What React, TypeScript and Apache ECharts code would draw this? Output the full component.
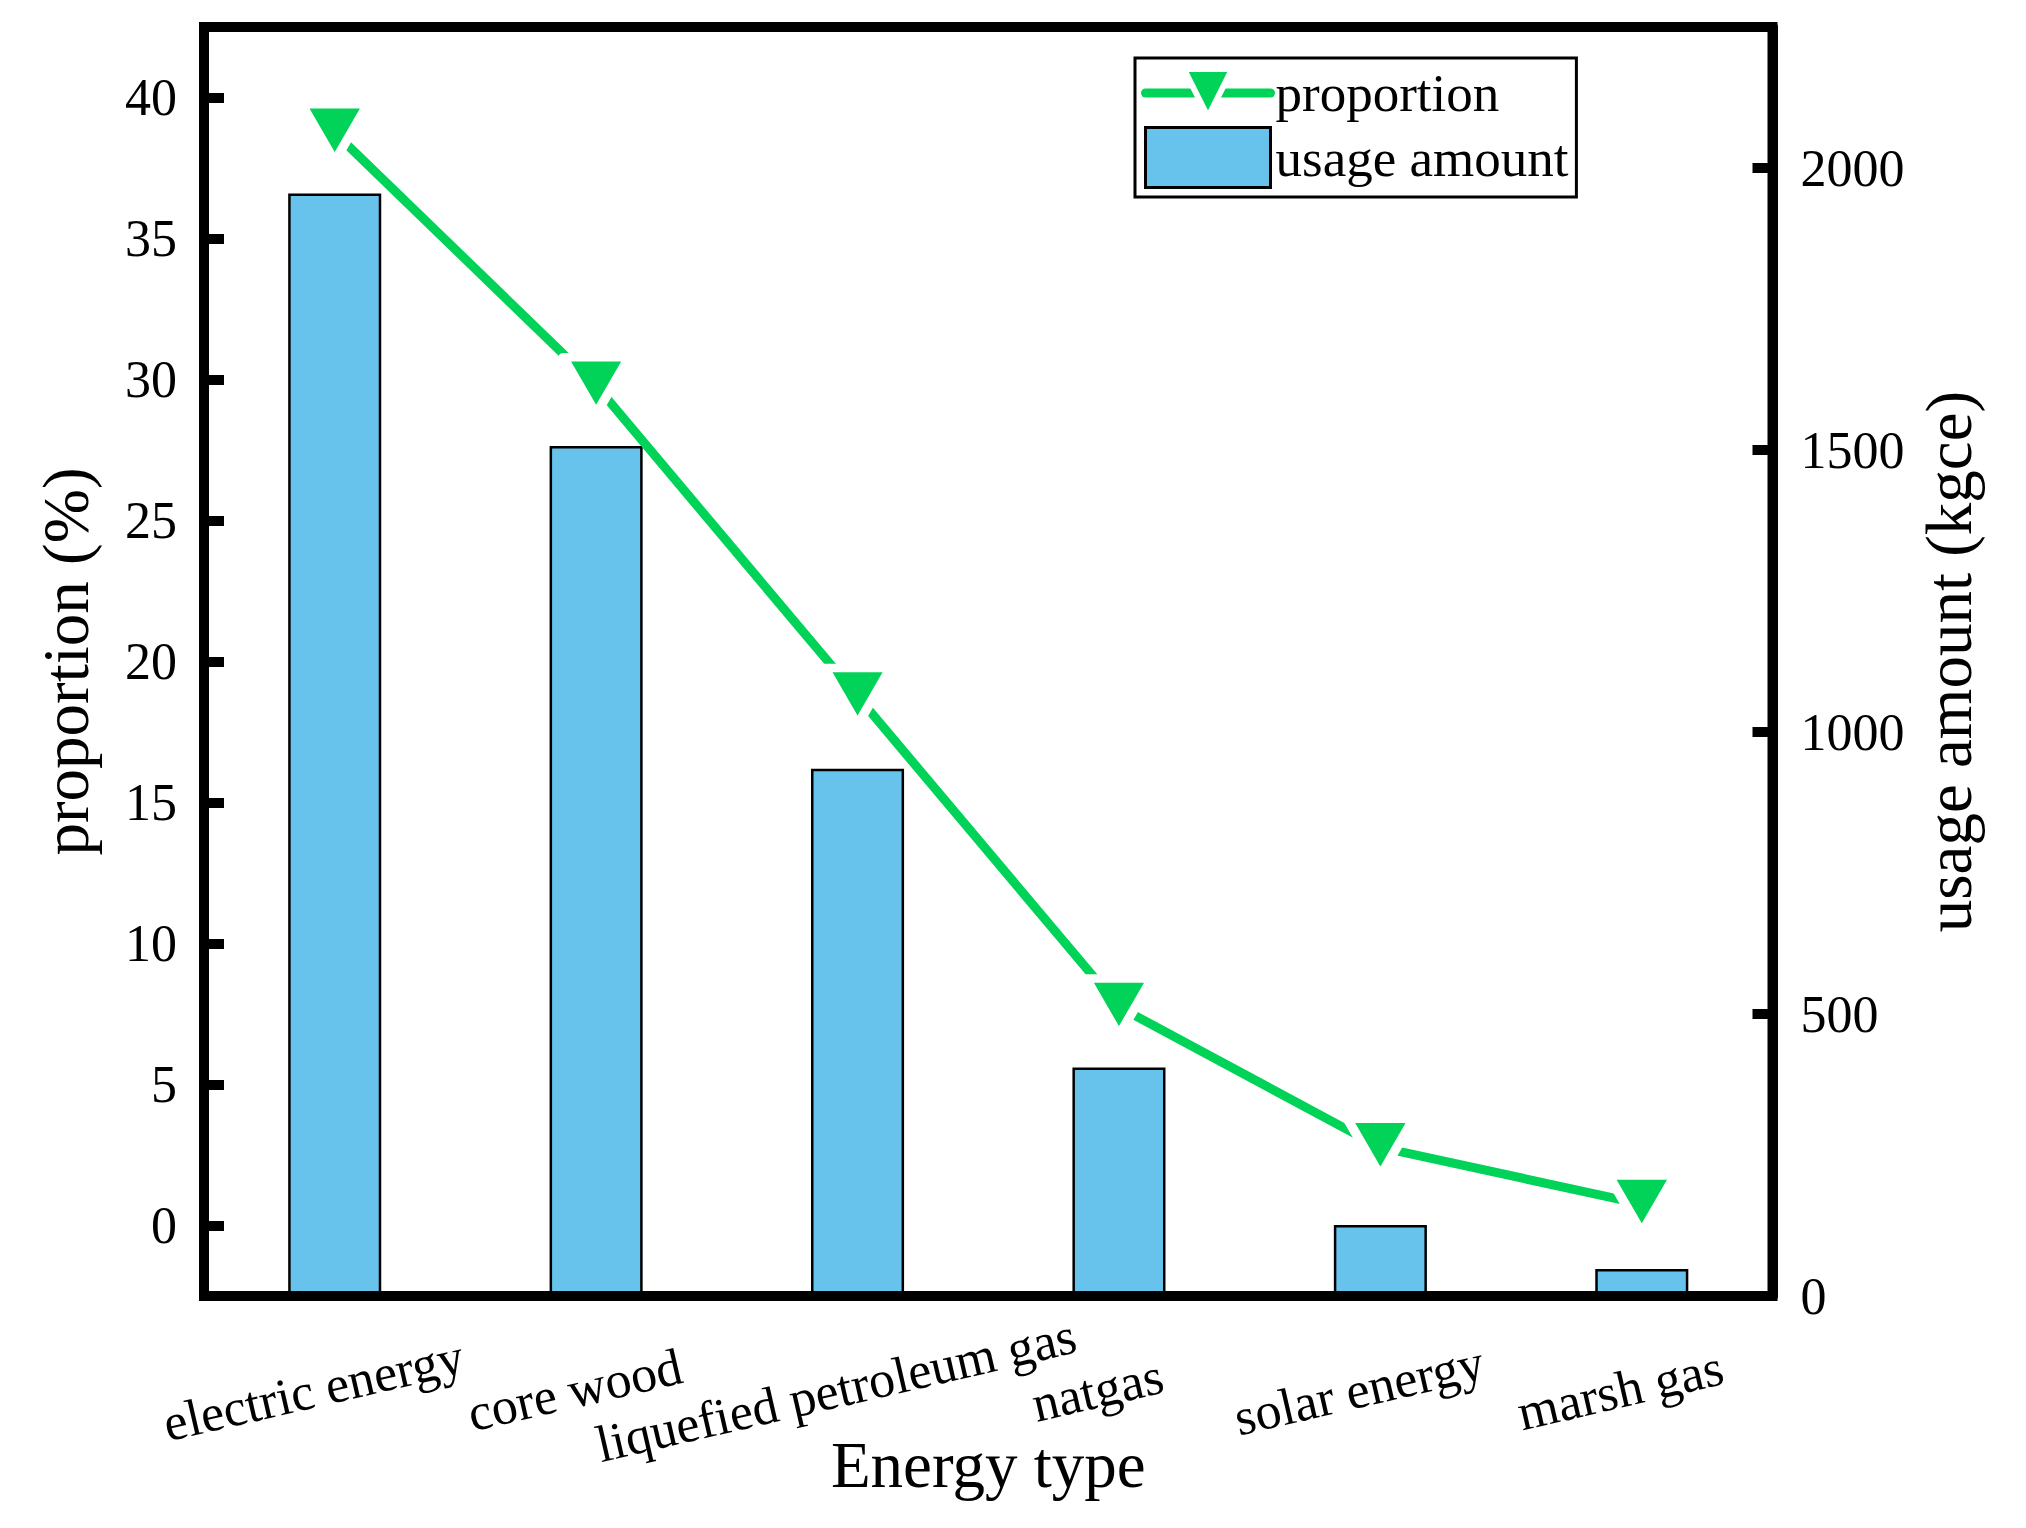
import React, { useEffect, useRef } from 'react';
import * as echarts from 'echarts';

const categories = [
  'electric energy',
  'core wood',
  'liquefied petroleum gas',
  'natgas',
  'solar energy',
  'marsh gas',
];
const usageAmount = [1955, 1507, 935, 405, 126, 48];
const proportion = [38.75, 29.78, 18.76, 7.75, 2.77, 0.76];
const leftTicks = [0, 5, 10, 15, 20, 25, 30, 35, 40];
const rightTicks = [0, 500, 1000, 1500, 2000];

const FONT = '"Liberation Serif", "Times New Roman", serif';
const GREEN = '#00D357';
const BLUE = '#67C3EB';

export default function App() {
  const ref = useRef<HTMLDivElement>(null);

  useEffect(() => {
    document.body.style.margin = '0';
    const chart = echarts.init(ref.current as HTMLDivElement, null, { renderer: 'svg' });
    const option: any = {
      animation: false,
      backgroundColor: '#ffffff',
      textStyle: { fontFamily: FONT, color: '#000' },
      grid: {
        left: 204,
        right: 253.5,
        top: 27,
        bottom: 232,
        containLabel: false,
        outerBoundsMode: 'none',
        show: true,
        borderColor: '#000',
        borderWidth: 10,
        backgroundColor: 'transparent',
      },
      legend: {
        orient: 'vertical',
        left: 1135,
        top: 58,
        padding: [8, 8, 8, 6],
        itemWidth: 125,
        itemHeight: 60,
        itemGap: 6,
        itemTextGap: 14,
        borderColor: '#000',
        borderWidth: 3,
        backgroundColor: '#fff',
        textStyle: { fontSize: 53, fontFamily: FONT, color: '#000' },
        data: [
          {
            name: 'proportion',
            itemStyle: { color: GREEN, borderColor: '#fff', borderWidth: 6, borderJoin: 'round' },
            lineStyle: { color: GREEN, width: 9, cap: 'round' },
          },
          {
            name: 'usage amount',
            icon: 'rect',
            itemStyle: { color: BLUE, borderColor: '#000', borderWidth: 3 },
          },
        ],
      },
      xAxis: {
        type: 'category',
        data: categories,
        z: 10,
        boundaryGap: true,
        name: 'Energy type',
        nameLocation: 'middle',
        nameGap: 136,
        nameMoveOverlap: false,
        nameTextStyle: { fontSize: 65, fontFamily: FONT, color: '#000' },
        axisLine: { show: true, onZero: false, lineStyle: { color: '#000', width: 10 } },
        axisTick: { show: false },
        splitLine: { show: false },
        axisLabel: {
          interval: 0,
          hideOverlap: false,
          rotate: 13,
          align: 'center',
          verticalAlign: 'middle',
          margin: 89,
          padding: [0, 44, 0, 0],
          fontSize: 52,
          fontFamily: FONT,
          color: '#000',
        },
      },
      yAxis: [
        {
          type: 'value',
          min: -2.5,
          max: 42.5,
          z: 10,
          position: 'left',
          name: 'proportion (%)',
          nameLocation: 'middle',
          nameGap: 106,
          nameRotate: 90,
          nameMoveOverlap: false,
          nameTextStyle: { fontSize: 65, fontFamily: FONT, color: '#000' },
          axisLine: { show: true, onZero: false, lineStyle: { color: '#000', width: 10 } },
          axisTick: {
            show: true,
            inside: true,
            length: 20,
            customValues: leftTicks,
            lineStyle: { color: '#000', width: 10 },
          },
          axisLabel: {
            customValues: leftTicks,
            margin: 27,
            fontSize: 52,
            fontFamily: FONT,
            color: '#000',
            formatter: (v: number) => String(v),
          },
          splitLine: { show: false },
        },
        {
          type: 'value',
          min: 0,
          max: 2250,
          z: 10,
          position: 'right',
          name: 'usage amount (kgce)',
          nameLocation: 'middle',
          nameGap: 144,
          nameRotate: 90,
          nameMoveOverlap: false,
          nameTextStyle: { fontSize: 65, fontFamily: FONT, color: '#000' },
          axisLine: { show: true, onZero: false, lineStyle: { color: '#000', width: 10 } },
          axisTick: {
            show: true,
            inside: true,
            length: 20,
            customValues: rightTicks,
            lineStyle: { color: '#000', width: 10 },
          },
          axisLabel: {
            customValues: rightTicks,
            margin: 28,
            fontSize: 52,
            fontFamily: FONT,
            color: '#000',
            formatter: (v: number) => String(v),
          },
          splitLine: { show: false },
        },
      ],
      series: [
        {
          name: 'usage amount',
          type: 'bar',
          yAxisIndex: 1,
          data: usageAmount,
          barWidth: '35.6%',
          itemStyle: { color: BLUE, borderColor: '#000', borderWidth: 2.5 },
        },
        {
          name: 'proportion',
          type: 'line',
          yAxisIndex: 0,
          data: proportion,
          symbol: 'triangle',
          symbolSize: [66, 57],
          symbolRotate: 180,
          lineStyle: { color: GREEN, width: 9, cap: 'round', join: 'round' },
          itemStyle: {
            color: GREEN,
            borderColor: '#ffffff',
            borderWidth: 9,
            borderJoin: 'round',
          },
        },
      ],
    };
    chart.setOption(option);
    return () => chart.dispose();
  }, []);

  return <div ref={ref} style={{ width: 2026, height: 1528 }} />;
}
